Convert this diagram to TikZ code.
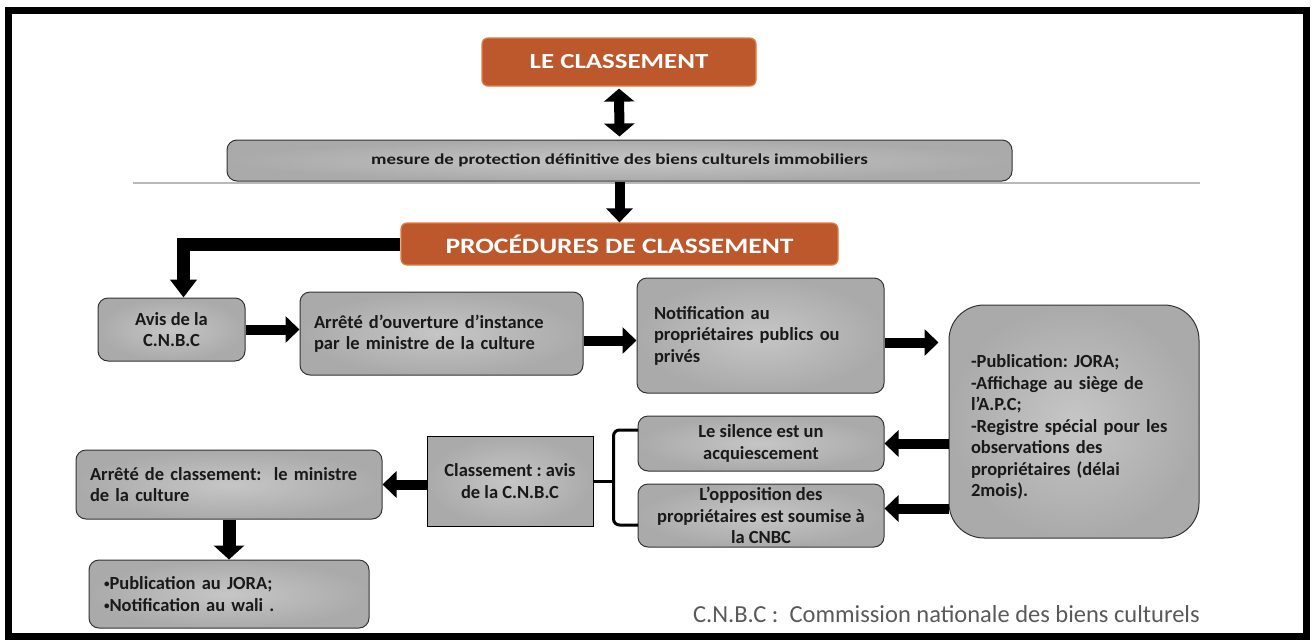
\documentclass[tikz,border=0pt]{standalone}
\usepackage{fontspec}
\setmainfont{Carlito}
\newfontfamily\etire[FakeStretch=1.25]{Carlito}
\usetikzlibrary{arrows.meta}
\definecolor{orangeB}{RGB}{189,88,44}
\definecolor{orangeC}{RGB}{228,124,66}
\definecolor{grisA}{RGB}{198,198,198}
\definecolor{grisB}{RGB}{170,170,170}
\definecolor{grisT}{RGB}{89,89,89}
\newcommand\puce{\raisebox{0.2ex}{\scalebox{0.6}{•}}}
\frenchspacing
\tikzset{
  titre/.style={draw=orangeC, line width=1.2pt, fill=orangeB, rounded corners=6pt,
    text=white, font=\etire\bfseries\fontsize{21.5}{24}\selectfont, inner sep=0pt},
  boite/.style={draw=black!80, line width=1pt, rounded corners=10pt, shade,
    inner color=grisA, outer color=grisB, text=black!90,
    font=\bfseries\fontsize{18.5}{21.5}\selectfont, inner sep=0pt, align=center},
  fleche/.style={line width=10pt, -{Triangle[width=26pt,length=14pt]}},
  dfleche/.style={line width=10pt, {Triangle[width=30pt,length=13pt]}-{Triangle[width=30pt,length=13pt]}},
  accolade/.style={line width=3pt, rounded corners=6pt},
}
\begin{document}
\begin{tikzpicture}[x=1pt,y=-1pt]
\useasboundingbox (0,0) rectangle (1312,641);
\draw[line width=7pt] (8.5,10.5) rectangle (1306.5,636.5);% cadre

% haut
\node[titre, minimum width=274pt, minimum height=48pt] (classement) at (619,62) {LE CLASSEMENT};
\node[boite, minimum width=785pt, minimum height=41pt, font=\etire\bfseries\fontsize{15.2}{18}\selectfont] (mesure) at (619.5,160.5)
  {mesure de protection définitive des biens culturels immobiliers};
\draw[gray!55, line width=1.5pt] (133,183) -- (1200,183);
\node[titre, minimum width=437pt, minimum height=42pt, font=\etire\bfseries\fontsize{22}{26}\selectfont] (procedures) at (619.5,244)
  {PROCÉDURES DE CLASSEMENT};

% procedure
\node[boite, minimum width=147pt, minimum height=63pt] (avis) at (171.5,329.5) {Avis de la\\C.N.B.C};
\node[boite, minimum width=283pt, minimum height=83pt, text width=255pt, align=left] (ouverture) at (441.5,333.5)
  {Arrêté d’ouverture d’instance\\par le ministre de la culture};
\node[boite, minimum width=247pt, minimum height=115pt, text width=213pt, align=left] (notif) at (760.5,335.5)
  {Notification au\\propriétaires publics ou\\privés};
\node[boite, rounded corners=35pt, minimum width=250pt, minimum height=233pt, text width=206pt, align=left,
  text height=24pt] (pub) at (1074,421.5)
  {-Publication: JORA;\\-Affichage au siège de\\l’A.P.C;\\-Registre spécial pour les\\observations des\\propriétaires (délai\\2mois).};
\node[boite, minimum width=246pt, minimum height=55pt] (silence) at (761,443.5) {Le silence est un\\acquiescement};
\node[boite, minimum width=246pt, minimum height=63pt] (opposition) at (761,515.5)
  {L’opposition des\\propriétaires est soumise à\\la CNBC};
\node[boite, rounded corners=0pt, draw=black, minimum width=166pt, minimum height=90pt] (avisclass) at (510,481)
  {Classement : avis\\de la C.N.B.C};
\node[boite, minimum width=306pt, minimum height=69pt, text width=278pt, align=left] (arreteclass) at (229,484.5)
  {Arrêté de classement:~ le ministre\\de la culture};
\node[boite, minimum width=280pt, minimum height=68pt, text width=250pt, align=left] (publi) at (229,594)
  {\puce Publication au JORA;\\\puce Notification au wali .};
\node[anchor=base east, inner sep=0pt, text=grisT, font=\fontsize{24.5}{28}\selectfont] (legende) at (1200,622)
  {C.N.B.C :~ Commission nationale des biens culturels};

% fleches
\draw[dfleche, shorten <=2pt, shorten >=3pt] (classement.south) -- (mesure.north);
\draw[fleche] (mesure.south) -- (procedures.north);
\draw[fleche, line width=13pt, -{Triangle[width=26pt,length=18pt]}] (procedures.west) -| ([xshift=12pt]avis.north);
\draw[fleche] (avis.east) -- (avis.east -| ouverture.west);
\draw[fleche] ([yshift=-7pt]ouverture.east) -- ([yshift=-7pt]ouverture.east -| notif.west);
\draw[fleche, shorten >=10pt] ([yshift=-7pt]notif.east) -- ([yshift=-7pt]notif.east -| pub.west);
\draw[fleche] (silence.east -| pub.west) -- (silence.east);
\draw[fleche] ([yshift=7pt]opposition.east -| pub.west) -- ([yshift=7pt]opposition.east);
\draw[fleche] (avisclass.west |- arreteclass.east) -- (arreteclass.east);
\draw[fleche, line width=13pt, -{Triangle[width=30pt,length=14pt]}] (arreteclass.south) -- (publi.north);

% accolade
\coordinate (pointe) at ([xshift=20pt]avisclass.east);
\coordinate (haut) at (638,430);
\coordinate (bas) at (638,525);
\draw[accolade] (haut) -| (pointe) |- (bas);
\draw[line width=3pt] (pointe) -- (avisclass.east);
\end{tikzpicture}
\end{document}
